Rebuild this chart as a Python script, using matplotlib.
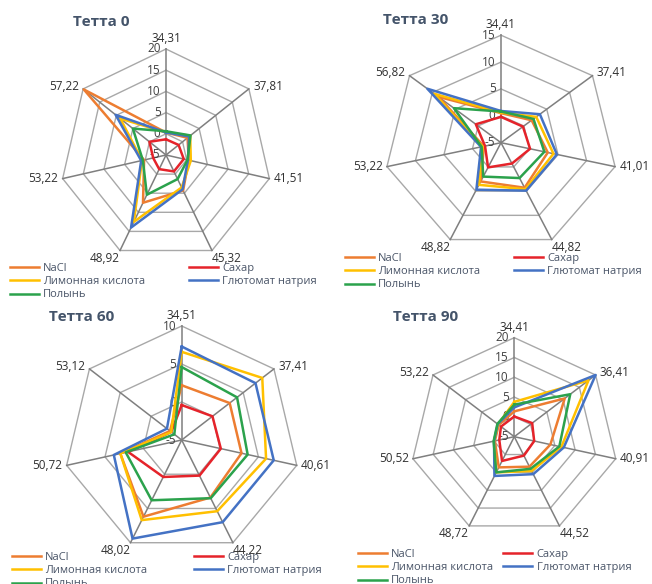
import numpy as np
import matplotlib
matplotlib.use("Agg")
import matplotlib.pyplot as plt

plt.rcParams['font.family'] = ['Open Sans', 'DejaVu Sans']

series = ["NaCl", "Сахар", "Лимонная кислота", "Глютомат натрия", "Полынь"]
colors = ["#ED7D31", "#E5232A", "#FFC000", "#4472C4", "#2BA24C"]

# Тетта 0
t0_spokes = ["34,31", "37,81", "41,51", "45,32", "48,92", "53,22", "57,22"]
t0_nacl = [0.3, 1.5, 0.5, 4.3, 7.5, 0.3, 19.8]
t0_sugar = [-1.3, -1.2, -0.7, -0.7, -1.3, -1.9, 0.0]
t0_citric = [0.3, 2.3, 1.0, 3.5, 12.5, 0.8, 8.8]
t0_msg = [0.3, 2.0, 0.3, 4.0, 14.0, 1.0, 10.2]
t0_worm = [0.6, 2.4, 0.2, 1.3, 5.4, 0.6, 5.0]

# Тетта 30
t30_spokes = ["34,41", "37,41", "41,01", "44,82", "48,82", "53,22", "56,82"]
t30_nacl = [0.5, 1.7, 3.2, 4.3, 3.0, -2.0, 8.7]
t30_sugar = [-0.2, -0.2, 0.1, -0.7, 0.1, -2.2, 0.5]
t30_citric = [0.6, 2.7, 4.2, 4.6, 3.7, -1.8, 9.6]
t30_msg = [0.9, 3.5, 4.8, 4.9, 4.7, -1.5, 11.1]
t30_worm = [0.8, 2.1, 2.6, 2.3, 2.0, -1.6, 5.3]

# Тетта 60
t60_spokes = ["34,51", "37,41", "40,61", "44,22", "48,02", "50,72", "53,12"]
t60_nacl = [2.2, 2.8, 2.8, 3.4, 6.2, 3.0, -3.1]
t60_sugar = [-0.4, 0.0, 0.1, 0.2, 0.4, 2.0, -3.3]
t60_citric = [6.6, 8.1, 6.0, 5.4, 6.7, 3.0, -3.3]
t60_msg = [7.3, 7.0, 7.0, 7.0, 9.4, 3.85, -2.6]
t60_worm = [4.6, 4.0, 3.6, 3.5, 3.8, 2.3, -3.8]

# Тетта 90
t90_spokes = ["34,41", "36,41", "40,91", "44,52", "48,72", "50,52", "53,22"]
t90_nacl = [1.4, 10.5, 3.9, 3.4, 3.6, -0.2, -0.2]
t90_sugar = [0.1, 0.5, -0.1, 0.3, 1.8, -1.3, -0.9]
t90_citric = [3.8, 17.8, 6.6, 4.6, 5.0, 0.0, 0.0]
t90_msg = [2.4, 20.0, 7.2, 5.5, 6.0, 0.0, 0.1]
t90_worm = [3.1, 12.2, 6.1, 4.0, 5.0, 0.1, 0.2]

W, H = 652, 584
fig = plt.figure(figsize=(W / 100, H / 100), dpi=100)

theta = 2 * np.pi * np.arange(7) / 7
closed = np.append(theta, theta[0])

# label placement around the heptagon: offset (points), ha, va
lbl_pos = [((0, 3), 'center', 'bottom'), ((3, 2), 'left', 'center'),
           ((3, 0), 'left', 'center'), ((0, -1), 'left', 'top'),
           ((0, -1), 'right', 'top'), ((-3, 0), 'right', 'center'),
           ((-3, 2), 'right', 'center')]


def radar(cx, cy, rh, rv, title, spokes, data, rmax, title_xy, leg_xy, colsp):
    ax = fig.add_axes([(cx - rh) / W, 1 - (cy + rv) / H, 2 * rh / W, 2 * rv / H],
                      projection='polar')
    ax.set_aspect('auto')
    ax.set_theta_offset(np.pi / 2)
    ax.set_theta_direction(-1)
    ax.set_ylim(-5, rmax)
    ax.grid(False)
    ax.set_xticks([])
    ax.set_yticks([])
    ax.spines['polar'].set_visible(False)
    ax.patch.set_alpha(0)

    for v in range(0, rmax + 1, 5):
        ax.plot(closed, [v] * 8, color='#A8A8A8', lw=1.0, zorder=1, clip_on=False)
    for th in theta:
        ax.plot([th, th], [-5, rmax], color='#7F7F7F', lw=1.1, zorder=1, clip_on=False)

    for v in range(-5, rmax + 1, 5):
        ax.annotate(str(v), xy=(0, v), xytext=(-4, 0), textcoords='offset points',
                    ha='right', va='center', fontsize=8.5, color='#404040',
                    annotation_clip=False, zorder=1)

    for k, lbl in enumerate(spokes):
        off, ha, va = lbl_pos[k]
        ax.annotate(lbl, xy=(theta[k], rmax), xytext=off, textcoords='offset points',
                    ha=ha, va=va, fontsize=8.5, color='#303030', annotation_clip=False)

    lines = []
    for name, vals, c in zip(series, data, colors):
        ln, = ax.plot(closed, vals + vals[:1], color=c, lw=1.8, zorder=3,
                      clip_on=False, label=name)
        lines.append(ln)

    fig.text(title_xy[0] / W, 1 - title_xy[1] / H, title, fontsize=11,
             fontweight='bold', color='#44546A', ha='left', va='center')

    # legend reads row by row: NaCl | Сахар, Лимонная | Глютомат, Полынь
    order = [0, 2, 4, 1, 3]
    fig.legend([lines[i] for i in order], [series[i] for i in order], ncol=2,
               loc='upper left', bbox_to_anchor=(leg_xy[0] / W, 1 - leg_xy[1] / H),
               frameon=False, fontsize=8, labelcolor='#4A5568', handlelength=2.6,
               handletextpad=0.4, columnspacing=colsp, labelspacing=0.2,
               borderpad=0, borderaxespad=0)


radar(166, 155, 106, 106, "Тетта 0", t0_spokes,
      [t0_nacl, t0_sugar, t0_citric, t0_msg, t0_worm], 20, (73, 22), (10, 263), 3.9)
radar(501, 142.7, 117, 107.5, "Тетта 30", t30_spokes,
      [t30_nacl, t30_sugar, t30_citric, t30_msg, t30_worm], 15, (383, 20), (345, 253), 3.0)
radar(181.7, 440, 118, 114, "Тетта 60", t60_spokes,
      [t60_nacl, t60_sugar, t60_citric, t60_msg, t60_worm], 10, (49, 317), (12, 552), 4.2)
radar(514.3, 436.7, 104, 99, "Тетта 90", t90_spokes,
      [t90_nacl, t90_sugar, t90_citric, t90_msg, t90_worm], 20, (393, 317), (358, 549), 0.9)

fig.savefig("out.png", dpi=100)
